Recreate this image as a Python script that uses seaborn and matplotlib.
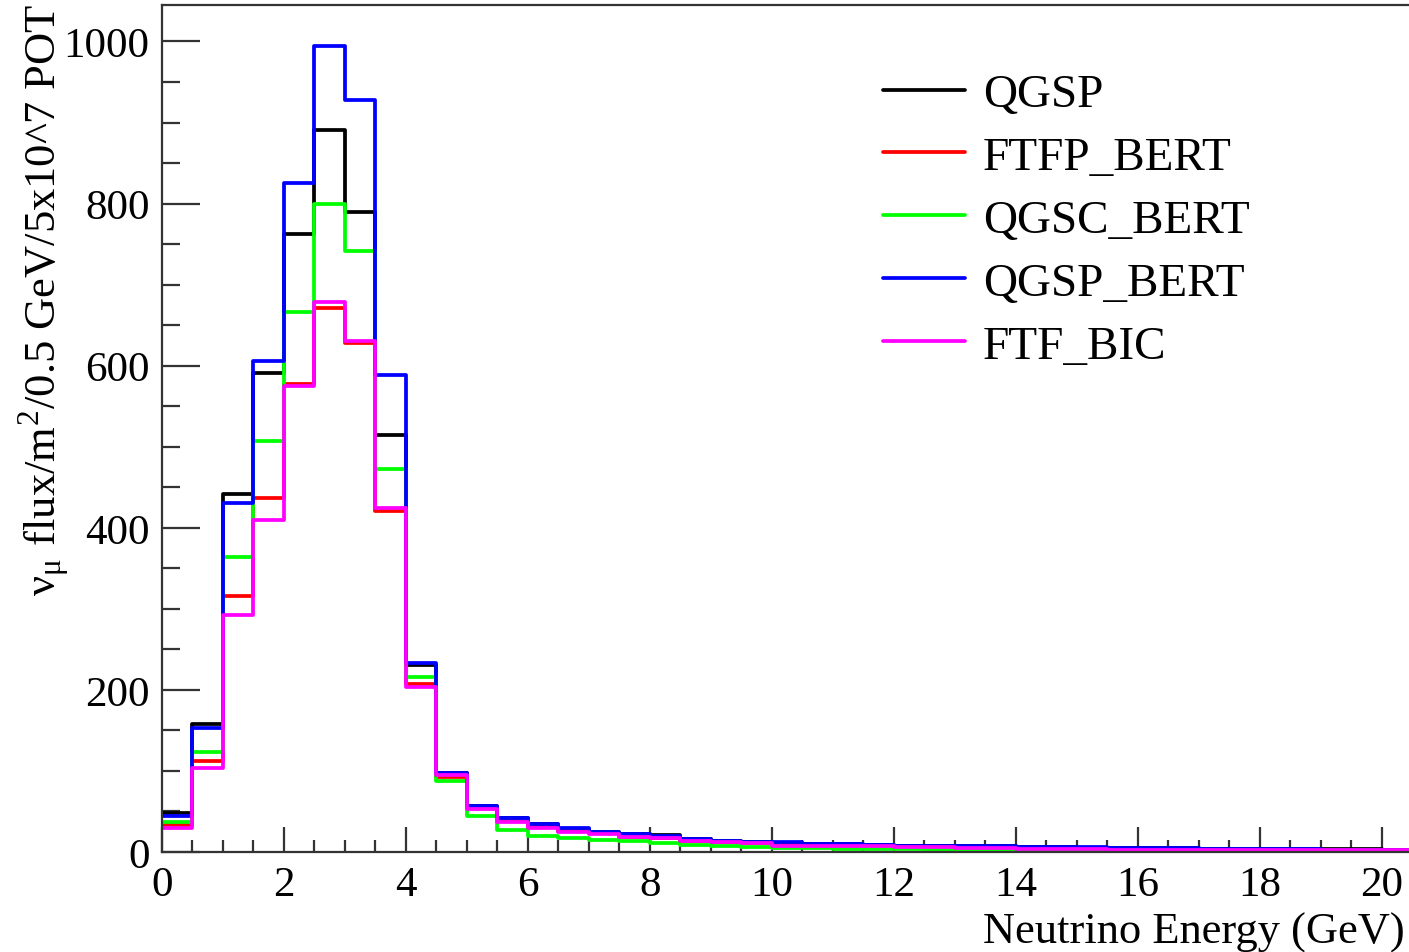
import numpy as np
import pandas as pd
import seaborn as sns
import matplotlib
matplotlib.use("Agg")
import matplotlib.pyplot as plt
from matplotlib.ticker import MultipleLocator

# ---------------- data (0.5 GeV bins from 0 to 20.5 GeV) ----------------
bin_width = 0.5
x_range = (0, 20.5)
series_names = ["QGSP", "FTFP_BERT", "QGSC_BERT", "QGSP_BERT", "FTF_BIC"]
series_colors = ["#000000", "#ff0000", "#00ff00", "#0000ff", "#ff00ff"]

qgsp = [48, 158, 442, 591, 762, 891, 790, 515, 231, 98, 57, 42, 34, 28, 25, 22, 21, 16, 14, 12, 11,
        10, 10, 9, 8, 8, 7, 7, 6, 6, 5, 5, 5, 5, 4, 4, 4, 4, 4, 4, 3]
ftfp_bert = [33, 112, 316, 437, 577, 671, 628, 421, 207, 93, 54, 38, 31, 26, 23, 19, 17, 14, 12, 11, 9,
             8, 8, 7, 6, 6, 5, 5, 4, 4, 4, 3, 3, 3, 3, 3, 2, 2, 2, 2, 2]
qgsc_bert = [37, 123, 364, 507, 666, 800, 741, 472, 216, 88, 45, 27, 20, 17, 15, 13, 11, 9, 7, 6, 5,
             5, 4, 4, 4, 3, 3, 3, 3, 2, 2, 2, 2, 2, 2, 1, 1, 1, 1, 1, 1]
qgsp_bert = [45, 153, 430, 606, 826, 994, 928, 589, 233, 98, 57, 42, 34, 29, 25, 22, 20, 16, 14, 12, 12,
             10, 10, 9, 8, 8, 7, 7, 6, 6, 6, 5, 5, 5, 4, 4, 4, 4, 3, 3, 3]
ftf_bic = [30, 104, 293, 409, 575, 679, 630, 425, 203, 95, 53, 37, 30, 25, 22, 18, 17, 13, 12, 11, 8,
           8, 7, 7, 6, 6, 5, 5, 4, 4, 4, 3, 3, 3, 3, 2, 2, 2, 2, 2, 2]
series_values = [qgsp, ftfp_bert, qgsc_bert, qgsp_bert, ftf_bic]

x_ticks = [0, 2, 4, 6, 8, 10, 12, 14, 16, 18, 20]
y_ticks = [0, 200, 400, 600, 800, 1000]
x_label = "Neutrino Energy (GeV)"
y_label = r"ν$_{\mathregular{μ}}$ flux/m$^{\mathregular{2}}$/0.5 GeV/5x10^7 POT"

# ---------------- style ----------------
sns.set_theme(style="white")
plt.rcParams["font.family"] = ["Liberation Serif", "DejaVu Serif"]
plt.rcParams["mathtext.fontset"] = "stix"
plt.rcParams["text.color"] = "black"

W, H = 1409, 953
fig = plt.figure(figsize=(W / 100, H / 100), dpi=100)
ax_left, ax_bottom_px, ax_top_px = 162, 853, 6
ax_right_px = 1412
ax = fig.add_axes([ax_left / W, 1 - ax_bottom_px / H,
                   (ax_right_px - ax_left) / W, (ax_bottom_px - ax_top_px) / H])

n_bins = len(qgsp)
centers = [x_range[0] + bin_width * (i + 0.5) for i in range(n_bins)]
rows = []
for name, vals in zip(series_names, series_values):
    for c, v in zip(centers, vals):
        rows.append({"energy": c, "flux": v, "model": name})
df = pd.DataFrame(rows)

for name, color in zip(series_names, series_colors):
    sub = df[df["model"] == name]
    sns.histplot(data=sub, x="energy", weights="flux", binwidth=bin_width,
                 binrange=x_range, element="step", fill=False, color=color,
                 linewidth=2.7, ax=ax, label=name)

ax.set_xlim(*x_range)
ax.set_ylim(0, 1045)
ax.set_xticks(x_ticks)
ax.set_yticks(y_ticks)
ax.xaxis.set_minor_locator(MultipleLocator(0.5))
ax.yaxis.set_minor_locator(MultipleLocator(50))
ax.set_xlabel("")
ax.set_ylabel("")

for side in ["left", "bottom", "top"]:
    ax.spines[side].set_visible(True)
    ax.spines[side].set_color("#333333")
    ax.spines[side].set_linewidth(1.6)
ax.spines["right"].set_visible(False)

ax.tick_params(axis="both", which="both", direction="in", color="#333333",
               width=1.6, labelsize=31, labelcolor="black")
ax.tick_params(axis="y", which="major", length=27, pad=9, left=True)
ax.tick_params(axis="y", which="minor", length=13, left=True)
ax.tick_params(axis="x", which="major", length=18, pad=10, bottom=True)
ax.tick_params(axis="x", which="minor", length=9, bottom=True)

fig.text(1405 / W, 1 - 944 / H, x_label, ha="right", va="baseline", fontsize=32)
fig.text(44 / W, 1 - 4 / H, y_label, ha="center", va="top", rotation=90, fontsize=32)

handles, labels = ax.get_legend_handles_labels()
leg = ax.legend(handles, labels, loc="upper left",
                bbox_to_anchor=(883 / W, 1 - 74 / H), bbox_transform=fig.transFigure,
                frameon=False, fontsize=34, handlelength=1.74, handletextpad=0.38,
                labelspacing=0.42, borderpad=0, borderaxespad=0)
for line in leg.get_lines():
    line.set_linewidth(2.7)

fig.savefig("out.png", dpi=100)
